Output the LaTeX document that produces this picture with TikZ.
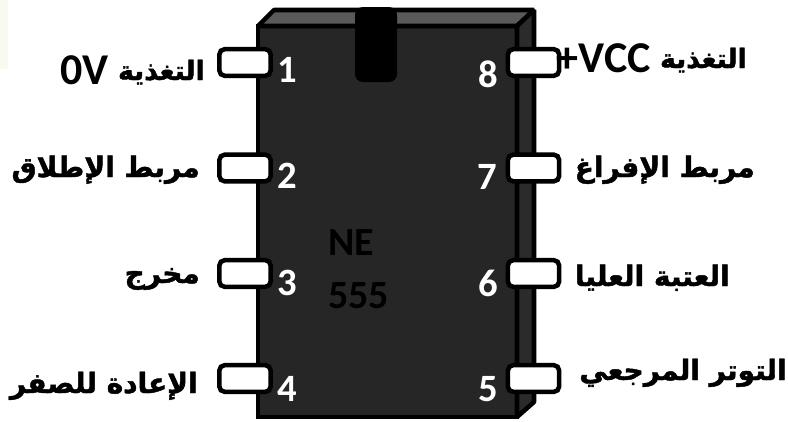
\documentclass[tikz,border=0pt]{standalone}
\usepackage{fontspec}
\setmainfont{Carlito}
\newfontfamily\arabicfont[Script=Arabic,BoldFeatures={FakeBold=1.6}]{DejaVu Sans}
\TeXXeTstate=1
\definecolor{chipdark}{HTML}{262626}
\definecolor{chipside}{HTML}{2B2B2B}
\definecolor{chiptop}{HTML}{5A5A5A}
\definecolor{paper}{HTML}{F9F9F0}
\newcommand{\latinpart}[1]{\beginL\raisebox{-3.7pt}{\normalfont\fontsize{33}{33}\selectfont\bfseries #1}\endL}
\tikzset{
  pin/.style={draw=black, line width=3.4pt, fill=white, rounded corners=4pt, minimum width=38.5pt, minimum height=20pt, inner sep=0pt},
  pinnum/.style={text=white, font=\fontsize{29}{29}\selectfont\bfseries, inner sep=0pt},
  chiptext/.style={text=black, font=\fontsize{30}{30}\selectfont\bfseries, inner sep=0pt},
  lbl/.style={text=black, font=\fontsize{21}{21}\arabicfont\bfseries, inner sep=0pt, anchor=base east},
  lblsmall/.style={lbl, font=\fontsize{20}{20}\arabicfont\bfseries}
}
\begin{document}
\begin{tikzpicture}[x=0.75pt,y=-0.75pt]
\useasboundingbox (0,0) rectangle (788,421);
\fill[paper] (0,0) rectangle (8,69);

% body of the chip
\draw[black, line width=3.4pt, fill=chipdark] (258,26) rectangle (517,417);
\draw[black, line width=3.4pt, fill=chiptop, line join=bevel] (258,26) -- (274,10) -- (534,10) -- (517,26) -- cycle;
\draw[black, line width=3.4pt, fill=chipside, line join=bevel] (517,26) -- (534,10) -- (534,402) -- (517,417) -- cycle;
\fill[black, rounded corners=6pt] (355,7) -- (397,7) -- (397,82) -- (355,82) -- cycle;

% pins
\node[pin] (p1) at (245,62.5) {};
\node[pin] (p2) at (245,168) {};
\node[pin] (p3) at (245,273.5) {};
\node[pin] (p4) at (245,378.5) {};
\node[pin] (p8) at (533.5,62.5) {};
\node[pin] (p7) at (533.5,168) {};
\node[pin] (p6) at (533.5,273.5) {};
\node[pin] (p5) at (533.5,378.5) {};

\node[pinnum] (n1) at (287,70) {1};
\node[pinnum] (n2) at (287,176) {2};
\node[pinnum] (n3) at (287,283) {3};
\node[pinnum] (n4) at (287,389) {4};
\node[pinnum] (n8) at (488,74) {8};
\node[pinnum] (n7) at (487,177) {7};
\node[pinnum] (n6) at (488,283) {6};
\node[pinnum] (n5) at (488,389) {5};

\node[chiptext, anchor=west] (ne) at (328,243) {NE};
\node[chiptext, anchor=west] (num) at (328,296) {555};

% labels
\node[lblsmall] (l1) at (205,80) {\beginR التغذية \latinpart{0V}\endR};
\node[lbl] (l2) at (200,177) {\beginR مربط الإطلاق\endR};
\node[lbl] (l3) at (200,283) {\beginR مخرج\endR};
\node[lbl] (l4) at (198,393) {\beginR الإعادة للصفر\endR};
\node[lblsmall] (l8) at (747,68) {\beginR التغذية \latinpart{+VCC}\endR};
\node[lbl] (l7) at (755,177) {\beginR مربط الإفراغ\endR};
\node[lbl] (l6) at (730,286) {\beginR العتبة العليا\endR};
\node[lbl] (l5) at (787,380) {\beginR التوتر المرجعي\endR};
\end{tikzpicture}
\end{document}
